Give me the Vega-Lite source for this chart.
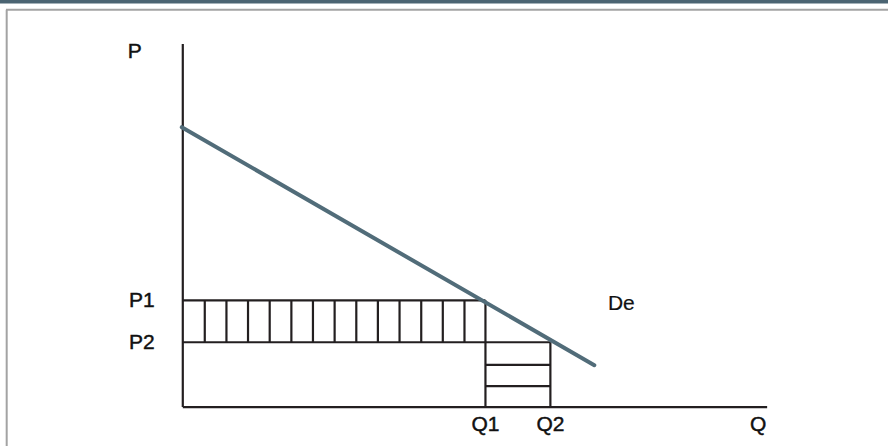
{
  "$schema": "https://vega.github.io/schema/vega-lite/v6.json",
  "width": 889,
  "height": 447,
  "autosize": {"type": "fit", "contains": "padding"},
  "padding": 0,
  "background": "white",
  "config": {
    "view": {"stroke": null},
    "text": {"font": "Liberation Sans", "fontSize": 21, "color": "#111111", "stroke": "#111111", "strokeWidth": 0.45}
  },
  "datasets": {
    "frame": [
      {"part": "band", "x1": -183, "x2": 706, "y1": 404.6, "y2": 408},
      {"part": "top", "x1": -177, "x2": 706, "y1": 398.3, "y2": 398.3},
      {"part": "left", "x1": -176.3, "x2": -176.3, "y1": 398.3, "y2": -39}
    ],
    "lines": [
      {"name": "P axis", "x1": 0, "x2": 0, "y1": 0, "y2": 364},
      {"name": "Q axis", "x1": 0, "x2": 585, "y1": 0, "y2": 0},
      {"name": "P1", "x1": 0, "x2": 303, "y1": 107, "y2": 107},
      {"name": "P2", "x1": 0, "x2": 368, "y1": 65, "y2": 65},
      {"name": "Q1", "x1": 303, "x2": 303, "y1": 0, "y2": 107},
      {"name": "Q2", "x1": 368, "x2": 368, "y1": 0, "y2": 65},
      {"name": "h1", "x1": 22, "x2": 22, "y1": 65, "y2": 107},
      {"name": "h2", "x1": 43.7, "x2": 43.7, "y1": 65, "y2": 107},
      {"name": "h3", "x1": 65.3, "x2": 65.3, "y1": 65, "y2": 107},
      {"name": "h4", "x1": 87, "x2": 87, "y1": 65, "y2": 107},
      {"name": "h5", "x1": 108.7, "x2": 108.7, "y1": 65, "y2": 107},
      {"name": "h6", "x1": 130.3, "x2": 130.3, "y1": 65, "y2": 107},
      {"name": "h7", "x1": 152, "x2": 152, "y1": 65, "y2": 107},
      {"name": "h8", "x1": 173.7, "x2": 173.7, "y1": 65, "y2": 107},
      {"name": "h9", "x1": 195.3, "x2": 195.3, "y1": 65, "y2": 107},
      {"name": "h10", "x1": 217, "x2": 217, "y1": 65, "y2": 107},
      {"name": "h11", "x1": 238.7, "x2": 238.7, "y1": 65, "y2": 107},
      {"name": "h12", "x1": 260.3, "x2": 260.3, "y1": 65, "y2": 107},
      {"name": "h13", "x1": 282, "x2": 282, "y1": 65, "y2": 107},
      {"name": "g1", "x1": 303, "x2": 368, "y1": 42.3, "y2": 42.3},
      {"name": "g2", "x1": 303, "x2": 368, "y1": 21, "y2": 21}
    ],
    "demand": [
      {"x1": -1, "x2": 412, "y1": 280.5, "y2": 42}
    ],
    "axisLabels": [
      {"label": "P1", "x": 0, "y": 107},
      {"label": "P2", "x": 0, "y": 65}
    ],
    "qLabels": [
      {"label": "Q1", "x": 303, "y": 0, "shift": -7},
      {"label": "Q2", "x": 368, "y": 0, "shift": 1.5}
    ]
  },
  "layer": [
    {
      "data": {"name": "frame"},
      "transform": [{"filter": "datum.part === 'band'"}],
      "mark": {"type": "rect", "color": "#4b6472"},
      "encoding": {
        "x": {"field": "x1", "type": "quantitative", "scale": {"domain": [-183, 706], "nice": false, "zero": false}, "axis": null},
        "x2": {"field": "x2"},
        "y": {"field": "y1", "type": "quantitative", "scale": {"domain": [-39, 408], "nice": false, "zero": false}, "axis": null},
        "y2": {"field": "y2"}
      }
    },
    {
      "data": {"name": "frame"},
      "transform": [{"filter": "datum.part !== 'band'"}],
      "mark": {"type": "rule", "color": "#a3a3a3", "strokeWidth": 2},
      "encoding": {
        "x": {"field": "x1", "type": "quantitative"},
        "x2": {"field": "x2"},
        "y": {"field": "y1", "type": "quantitative"},
        "y2": {"field": "y2"}
      }
    },
    {
      "data": {"name": "lines"},
      "mark": {"type": "rule", "color": "#231f20", "strokeWidth": 2.2},
      "encoding": {
        "x": {"field": "x1", "type": "quantitative"},
        "x2": {"field": "x2"},
        "y": {"field": "y1", "type": "quantitative"},
        "y2": {"field": "y2"}
      }
    },
    {
      "data": {"name": "demand"},
      "mark": {"type": "rule", "color": "#516c79", "strokeWidth": 4, "strokeCap": "round"},
      "encoding": {
        "x": {"field": "x1", "type": "quantitative"},
        "x2": {"field": "x2"},
        "y": {"field": "y1", "type": "quantitative"},
        "y2": {"field": "y2"}
      }
    },
    {
      "data": {"name": "axisLabels"},
      "mark": {"type": "text", "align": "right", "baseline": "middle", "dx": -28, "dy": 1},
      "encoding": {
        "x": {"field": "x", "type": "quantitative"},
        "y": {"field": "y", "type": "quantitative"},
        "text": {"field": "label"}
      }
    },
    {
      "data": {"name": "qLabels"},
      "mark": {"type": "text", "align": "center", "baseline": "middle", "dy": 18},
      "encoding": {
        "x": {"field": "x", "type": "quantitative"},
        "y": {"field": "y", "type": "quantitative"},
        "xOffset": {"field": "shift", "type": "quantitative", "scale": null},
        "text": {"field": "label"}
      }
    },
    {
      "data": {"values": [{"label": "P", "x": 0, "y": 364}]},
      "mark": {"type": "text", "align": "center", "baseline": "middle", "dx": -48, "dy": 8},
      "encoding": {
        "x": {"field": "x", "type": "quantitative"},
        "y": {"field": "y", "type": "quantitative"},
        "text": {"field": "label"}
      }
    },
    {
      "data": {"values": [{"label": "Q", "x": 585, "y": 0}]},
      "mark": {"type": "text", "align": "center", "baseline": "middle", "dx": -9, "dy": 18},
      "encoding": {
        "x": {"field": "x", "type": "quantitative"},
        "y": {"field": "y", "type": "quantitative"},
        "text": {"field": "label"}
      }
    },
    {
      "data": {"values": [{"label": "De", "x": 439, "y": 103.5}]},
      "mark": {"type": "text", "align": "center", "baseline": "middle", "strokeWidth": 0.2},
      "encoding": {
        "x": {"field": "x", "type": "quantitative"},
        "y": {"field": "y", "type": "quantitative"},
        "text": {"field": "label"}
      }
    }
  ]
}
